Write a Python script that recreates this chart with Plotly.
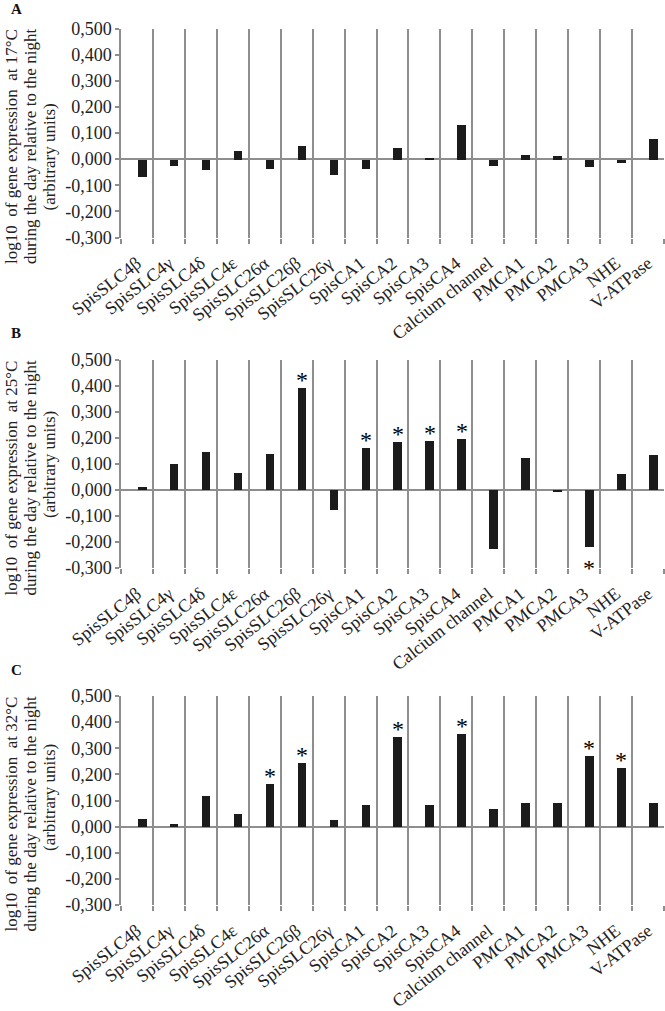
import plotly.graph_objects as go

genes = ["SpisSLC4β", "SpisSLC4γ", "SpisSLC4δ", "SpisSLC4ε", "SpisSLC26α",
         "SpisSLC26β", "SpisSLC26γ", "SpisCA1", "SpisCA2", "SpisCA3", "SpisCA4",
         "Calcium channel", "PMCA1", "PMCA2", "PMCA3", "NHE", "V-ATPase"]

vals_17 = [-0.067, -0.026, -0.040, 0.033, -0.037, 0.051, -0.060, -0.034, 0.046,
           0.007, 0.131, -0.026, 0.019, 0.015, -0.029, -0.011, 0.079]
vals_25 = [0.012, 0.099, 0.148, 0.064, 0.140, 0.393, -0.078, 0.160, 0.186,
           0.189, 0.196, -0.225, 0.122, -0.006, -0.221, 0.060, 0.133]
vals_32 = [0.028, 0.010, 0.119, 0.047, 0.163, 0.245, 0.024, 0.084, 0.342,
           0.084, 0.353, 0.066, 0.092, 0.092, 0.272, 0.226, 0.092]

sig_17 = []
sig_25 = ["SpisSLC26β", "SpisCA1", "SpisCA2", "SpisCA3", "SpisCA4", "PMCA3"]
sig_32 = ["SpisSLC26α", "SpisSLC26β", "SpisCA2", "SpisCA4", "PMCA3", "NHE"]

panel_letters = ["A", "B", "C"]
temps = ["17°C", "25°C", "32°C"]

ytick_vals = [-0.3, -0.2, -0.1, 0.0, 0.1, 0.2, 0.3, 0.4, 0.5]
ytick_text = ["-0,300", "-0,200", "-0,100", "0,000", "0,100", "0,200", "0,300", "0,400", "0,500"]

W, H = 665, 1011
FONT = "Liberation Serif"
GRID = "#8e8e8e"
BAR = "#1b1b1b"
TXT = "#222222"

panels_px = [(28.5, 237.5), (360, 568), (696, 905)]
letters_px = [9, 333, 670]
unit_line_off = [128, 104, 101]
x_dom = [121 / W, 664 / W]

BAR_OFF = 0.03
BAR_W = 0.27

fig = go.Figure()
series = [vals_17, vals_25, vals_32]
sigs = [sig_17, sig_25, sig_32]
annotations = []

for k in range(3):
    sfx = "" if k == 0 else str(k + 1)
    top, bot = panels_px[k]
    fig.add_trace(go.Bar(
        x=genes, y=series[k], xaxis="x" + sfx, yaxis="y" + sfx,
        marker=dict(color=BAR, line=dict(width=0)),
        width=BAR_W, offset=BAR_OFF, showlegend=False,
    ))
    fig.update_layout(**{
        "xaxis" + sfx: dict(
            domain=x_dom, anchor="y" + sfx, type="category", automargin=False,
            tickson="boundaries", showgrid=True, gridcolor=GRID, gridwidth=1.5,
            ticks="outside", ticklen=5, tickcolor=GRID, tickwidth=1.5,
            showline=False, zeroline=False, tickangle=-38, ticklabelstandoff=11,
            tickfont=dict(family=FONT, size=18, color=TXT),
        ),
        "yaxis" + sfx: dict(
            domain=[1 - bot / H, 1 - top / H], anchor="x" + sfx, automargin=False,
            range=[-0.3, 0.5], tickvals=ytick_vals, ticktext=ytick_text,
            showgrid=False, showline=True, linecolor=GRID, linewidth=1.5,
            ticks="outside", ticklen=4, tickcolor=GRID, tickwidth=1.5,
            zeroline=True, zerolinecolor=GRID, zerolinewidth=1.5,
            tickfont=dict(family=FONT, size=18, color=TXT),
        ),
    })
    # y title, three lines
    title_lines = ["log10\u00a0 of gene expression\u00a0 at " + temps[k],
                   "during the day relative to the night",
                   "(arbitrary units)"]
    line_x = [11, 30, 49]
    for j, t in enumerate(title_lines):
        if j < 2:
            ya, yy = "top", top - 1
        else:
            ya, yy = "middle", top + unit_line_off[k]
        annotations.append(dict(
            xref="paper", yref="paper", x=line_x[j] / W, y=1 - yy / H,
            xanchor="center", yanchor=ya, textangle=-90, showarrow=False,
            text=t, font=dict(family=FONT, size=17, color=TXT),
        ))
    # panel letter
    annotations.append(dict(
        xref="paper", yref="paper", x=16 / W, y=1 - letters_px[k] / H,
        xanchor="center", yanchor="middle", showarrow=False,
        text="<b>" + panel_letters[k] + "</b>",
        font=dict(family=FONT, size=15, color="#111"),
    ))
    # significance asterisks
    for g in sigs[k]:
        i = genes.index(g)
        v = series[k][i]
        annotations.append(dict(
            xref="x" + sfx, yref="y" + sfx, x=i + BAR_OFF + BAR_W / 2, y=v,
            xanchor="center", yanchor="middle", showarrow=False, text="*",
            yshift=8 if v >= 0 else -21,
            font=dict(family=FONT, size=24, color="#000000"),
        ))

fig.update_layout(
    width=W, height=H, margin=dict(l=0, r=0, t=0, b=0),
    paper_bgcolor="white", plot_bgcolor="white",
    annotations=annotations, bargap=0,
)

fig.write_html("out.html", config={"displayModeBar": False},
               post_script="document.body.style.margin='0';")
